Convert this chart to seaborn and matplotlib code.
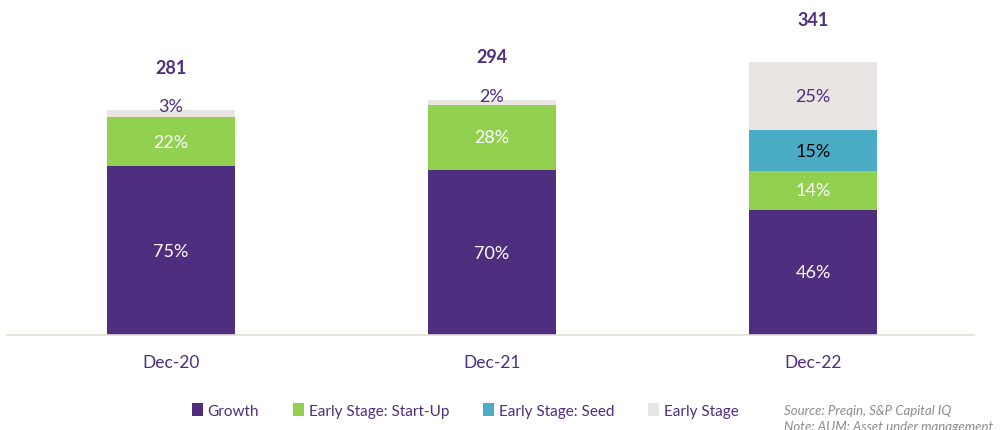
import matplotlib
matplotlib.use("Agg")
import matplotlib.pyplot as plt
import numpy as np
import pandas as pd
import seaborn as sns
from matplotlib.patches import Patch

# AUM by stage (totals) and stage shares (%)
periods = ["Dec-20", "Dec-21", "Dec-22"]
totals = [281, 294, 341]
growth = [75, 70, 46]
startup = [22, 28, 14]
seed = [0, 0, 15]
early = [3, 2, 25]

series_names = ["Growth", "Early Stage: Start-Up", "Early Stage: Seed", "Early Stage"]
colors = ["#4F2D7F", "#92D050", "#4BACC6", "#E9E5E2"]
label_colors = ["white", "white", "black", "#4F2D7F"]
purple = "#4F2D7F"

sns.set_theme(style="white")
plt.rcParams["font.family"] = ["Lato", "DejaVu Sans"]

shares = np.array([growth, startup, seed, early], dtype=float)
values = shares / 100.0 * np.array(totals)[None, :]
cum = np.cumsum(values, axis=0)

fig = plt.figure(figsize=(10.07, 4.31), dpi=100)
ax = fig.add_axes([0.007, 0.2204, 0.960, 0.7796])

# Draw cumulative layers from the top down so each stacks over the next
for i in range(len(series_names) - 1, -1, -1):
    df = pd.DataFrame({"period": periods, "value": cum[i]})
    sns.barplot(data=df, x="period", y="value", color=colors[i], width=0.4,
                saturation=1, ax=ax, edgecolor="none", linewidth=0)

ax.set_xlim(-0.51, 2.5)
ax.set_ylim(0, 420)

# Segment percentage labels
for j in range(len(periods)):
    for i in range(len(series_names)):
        if shares[i, j] <= 0:
            continue
        lo = cum[i, j] - values[i, j]
        hi = cum[i, j]
        if shares[i, j] < 5:
            ypos = hi + 5
        else:
            ypos = (lo + hi) / 2
        ax.text(j, ypos, f"{int(shares[i, j])}%", ha="center", va="center",
                color=label_colors[i], fontsize=13)
    ax.annotate(f"{totals[j]}", xy=(j, totals[j]), xytext=(0, 31),
                textcoords="offset points", ha="center", va="center",
                color=purple, fontsize=13, fontweight="bold")

ax.set_xlabel("")
ax.set_ylabel("")
ax.set_yticks([])
ax.tick_params(axis="x", length=0, pad=14, labelsize=12.5, labelcolor=purple)
for s in ["top", "right", "left"]:
    ax.spines[s].set_visible(False)
ax.spines["bottom"].set_color("#E3DFD6")
ax.spines["bottom"].set_linewidth(1.2)

handles = [Patch(facecolor=c, edgecolor="none") for c in colors]
fig.legend(handles, series_names, loc="center", bbox_to_anchor=(0.462, 0.046),
           ncol=4, frameon=False, fontsize=11, handlelength=0.75, handleheight=1.0,
           handletextpad=0.3, columnspacing=2.2, labelcolor=purple)

fig.text(0.779, 0.046, "Source: Preqin, S&P Capital IQ", fontsize=9.5,
         style="italic", color="#8C8C8C", va="center")
fig.text(0.779, 0.009, "Note: AUM: Asset under management", fontsize=9.5,
         style="italic", color="#8C8C8C", va="center")

fig.savefig("out.png", dpi=100)
